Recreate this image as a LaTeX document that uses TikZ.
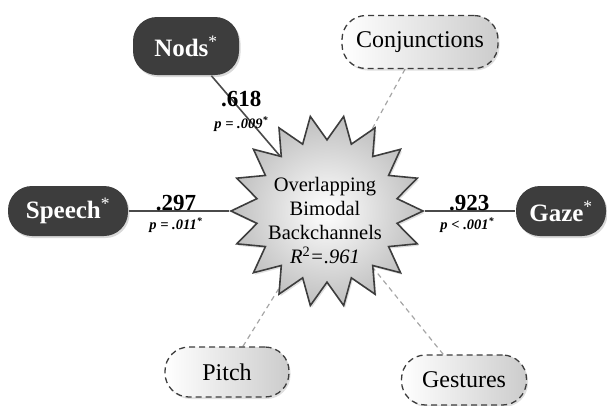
\documentclass[tikz,border=0pt]{standalone}
\usepackage{fontspec}
\setmainfont{Liberation Serif}
\usetikzlibrary{shapes.geometric, shadows, backgrounds}
\definecolor{cdark}{HTML}{3D3D3D}
\definecolor{cline}{HTML}{4A4A4A}
\definecolor{cdash}{HTML}{A6A6A6}
\tikzset{
  every picture/.style={line width=1.5pt},
  pred/.style={fill=cdark, text=white, rounded corners=24pt, inner sep=0pt, minimum height=50pt,
    font=\fontsize{25}{28}\selectfont\bfseries,
    drop shadow={opacity=0.3, shadow xshift=1.5pt, shadow yshift=-2pt}},
  weak/.style={draw=cdark, dash pattern=on 6pt off 4pt, line width=1.3pt, left color=white, right color=gray!40,
    rounded corners=24pt, inner sep=0pt, minimum height=50pt, font=\fontsize{24}{28}\selectfont,
    drop shadow={opacity=0.25, shadow xshift=1.5pt, shadow yshift=-2pt}},
  burst/.style={star, star points=18, star point ratio=1.35, shape border rotate=10, minimum size=192pt,
    inner sep=0pt, draw=cdark, line width=1.6pt, inner color=white, outer color=gray!50,
    drop shadow={opacity=0.25, shadow xshift=1.5pt, shadow yshift=-2pt}},
  link/.style={draw=cline, line width=1.6pt},
  nolink/.style={draw=cdash, dash pattern=on 5pt off 4pt, line width=1.2pt},
  coef/.style={inner sep=0pt, font=\fontsize{23}{23}\selectfont\bfseries},
  pval/.style={inner sep=0pt, font=\fontsize{14.5}{15}\selectfont\bfseries\itshape},
}

\begin{document}
\begin{tikzpicture}[x=1pt, y=-1pt]
  \useasboundingbox (0,0) rectangle (607,405);
  % outcome
  \node[burst] (model) at (327,211) {};
  \node[align=center, font=\fontsize{20.5}{24}\selectfont] (label) at (325,221)
    {Overlapping\\Bimodal\\Backchannels\\\textit{R}\textsuperscript{2}\textit{=.961}};
  % significant predictors
  \node[pred, minimum width=106pt, minimum height=58pt] (nods) at (186,46) {Nods\textsuperscript{\mdseries *}};
  \node[pred, minimum width=120pt] (speech) at (68,211) {Speech\textsuperscript{\mdseries *}};
  \node[pred, minimum width=90pt] (gaze) at (561,211) {Gaze\textsuperscript{\mdseries *}};
  % other predictors
  \node[weak, minimum width=156pt, minimum height=53pt] (conj) at (420,42) {Conjunctions};
  \node[weak, minimum width=124pt] (pitch) at (227,372) {Pitch};
  \node[weak, minimum width=125pt] (gest) at (464,380) {Gestures};
  % paths
  \begin{scope}[on background layer]
  \draw[link] (nods) -- node[coef, pos=.44, above=3pt] {.618} node[pval, pos=.44, below=5pt] {p = .009\textsuperscript{*}} (model);
  \draw[link] (speech) -- node[coef, pos=.47, above=-1pt] {.297} node[pval, pos=.47, below=6pt] {p = .011\textsuperscript{*}} (model);
  \draw[link] (model) -- node[coef, pos=.49, above=-1pt] {.923} node[pval, pos=.47, below=6pt] {p < .001\textsuperscript{*}} (gaze);
  \draw[nolink] (conj) -- (model);
  \draw[nolink] (pitch) -- (model);
  \draw[nolink] (gest) -- (model);
  \end{scope}
\end{tikzpicture}
\end{document}
